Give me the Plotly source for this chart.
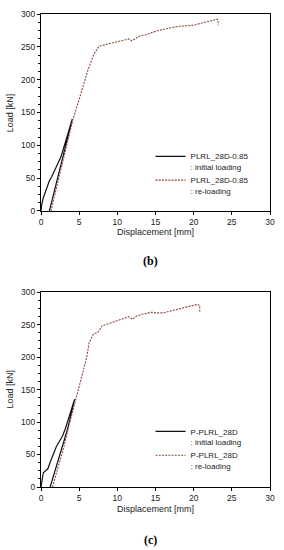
import plotly.graph_objects as go

# ---------------- data (b) PLRL_28D-0.85 ----------------
b_init_x = [0, 0.1, 0.3, 0.5, 0.8, 1.1, 1.4, 1.7, 2.2, 2.6, 3.2, 3.7, 4.1, 3.2, 2.2, 1.1]
b_init_y = [0, 10, 20, 27, 38, 46, 52, 60, 72, 82, 105, 125, 140, 98, 52, 0]
b_re_x = [1.3, 2.0, 3.0, 4.2, 5.0, 6.1, 6.9, 7.6, 8.3, 9.3, 10.3, 11.5, 11.9, 12.5, 13.0,
          13.6, 14.3, 15.4, 16.6, 17.9, 19.0, 20.0, 21.0, 22.0, 22.8, 23.1, 23.2, 23.2]
b_re_y = [0, 33, 82, 140, 170, 213, 238, 251, 253, 256, 259, 262, 259, 263, 267,
          268, 271, 275, 278, 281, 282, 283, 286, 289, 291, 292, 290, 283]
b_name = "PLRL_28D-0.85"

# ---------------- data (c) P-PLRL_28D ----------------
c_init_x = [0, 0.15, 0.3, 0.6, 0.9, 1.2, 1.6, 2.0, 2.4, 2.8, 3.2, 3.6, 4.0, 4.4, 3.5, 2.4, 1.2]
c_init_y = [0, 15, 22, 25, 28, 38, 50, 62, 70, 78, 90, 105, 120, 135, 90, 45, 0]
c_re_x = [1.5, 2.0, 2.5, 3.0, 3.5, 4.0, 4.6, 5.0, 5.5, 6.0, 6.3, 6.9, 7.3, 7.6, 8.0, 8.5, 9.0,
          10.0, 11.0, 11.5, 12.0, 12.5, 13.0, 14.0, 14.5, 15.0, 16.0, 17.0, 18.0, 19.0,
          20.0, 20.5, 20.8, 20.8]
c_re_y = [0, 20, 40, 62, 87, 110, 135, 155, 180, 200, 222, 236, 237, 240, 248, 250, 252,
          256, 259, 262, 258, 263, 265, 267, 269, 268, 268, 271, 274, 277,
          279, 281, 279, 268]
c_name = "P-PLRL_28D"

x_ticks = [0, 5, 10, 15, 20, 25, 30]
y_ticks = [0, 50, 100, 150, 200, 250, 300]

BLACK = "#111111"
BROWN = "#8a4a3c"
FONT = "Arial, Liberation Sans, sans-serif"
DASH = "2px,1.2px"

fig = go.Figure()
fig.add_trace(go.Scatter(x=b_init_x, y=b_init_y, mode="lines", line=dict(color=BLACK, width=1.2),
                         name=b_name + "<br>: initial loading", xaxis="x", yaxis="y", legend="legend"))
fig.add_trace(go.Scatter(x=b_re_x, y=b_re_y, mode="lines", line=dict(color=BROWN, width=1.1, dash=DASH),
                         name=b_name + "<br>: re-loading", xaxis="x", yaxis="y", legend="legend"))
fig.add_trace(go.Scatter(x=c_init_x, y=c_init_y, mode="lines", line=dict(color=BLACK, width=1.2),
                         name=c_name + "<br>: initial loading", xaxis="x2", yaxis="y2", legend="legend2"))
fig.add_trace(go.Scatter(x=c_re_x, y=c_re_y, mode="lines", line=dict(color=BROWN, width=1.1, dash=DASH),
                         name=c_name + "<br>: re-loading", xaxis="x2", yaxis="y2", legend="legend2"))

L, R, T, B = 41, 11, 9, 63
W, H = 284, 550
ph = H - T - B
pw = W - L - R

def py(p):
    return (H - B - p) / ph

def px(p):
    return (p - L) / pw

axis_common = dict(showline=True, mirror=True, linecolor="black", linewidth=1,
                   ticks="outside", ticklen=3, tickwidth=1, tickcolor="black",
                   showgrid=False, zeroline=False,
                   tickfont=dict(family=FONT, size=8.5, color="#222222"))

fig.update_layout(
    width=W, height=H,
    margin=dict(l=L, r=R, t=T, b=B),
    paper_bgcolor="white", plot_bgcolor="white",
    xaxis=dict(domain=[0, 1], range=[0, 30], tickvals=x_ticks, anchor="y", **axis_common),
    yaxis=dict(domain=[py(208), 1], range=[0, 300], tickvals=y_ticks, anchor="x",
               minor=dict(dtick=12.5, ticks="outside", ticklen=2, tickcolor="black"), **axis_common),
    xaxis2=dict(domain=[0, 1], range=[0, 30], tickvals=x_ticks, anchor="y2", **axis_common),
    yaxis2=dict(domain=[0, py(290)], range=[0, 300], tickvals=y_ticks, anchor="x2",
                minor=dict(dtick=12.5, ticks="outside", ticklen=2, tickcolor="black"), **axis_common),
    legend=dict(x=px(152), y=py(141), xanchor="left", yanchor="top", valign="top",
                bgcolor="rgba(0,0,0,0)", font=dict(family=FONT, size=8, color="#222222"),
                tracegroupgap=0, itemwidth=30),
    legend2=dict(x=px(152), y=py(419), xanchor="left", yanchor="top", valign="top",
                 bgcolor="rgba(0,0,0,0)", font=dict(family=FONT, size=8, color="#222222"),
                 tracegroupgap=0, itemwidth=30),
    showlegend=True,
)

ann_font = dict(family=FONT, size=9, color="#222222")
annotations = [
    dict(text="Displacement [mm]", x=px(157), y=py(229), font=ann_font),
    dict(text="Displacement [mm]", x=px(157), y=py(509), font=ann_font),
    dict(text="Load [kN]", x=px(10), y=py(109), textangle=-90, font=ann_font),
    dict(text="Load [kN]", x=px(10), y=py(388), textangle=-90, font=ann_font),
    dict(text="<b>(b)</b>", x=px(152), y=py(259),
         font=dict(family="Liberation Serif, Times New Roman, serif", size=12, color="black")),
    dict(text="<b>(c)</b>", x=px(152), y=py(541),
         font=dict(family="Liberation Serif, Times New Roman, serif", size=12, color="black")),
]
for a in annotations:
    a.update(xref="paper", yref="paper", showarrow=False, xanchor="center", yanchor="middle")
fig.update_layout(annotations=annotations)

fig.write_html("out.html", config={"displayModeBar": False},
               post_script="document.body.style.margin='0';document.body.style.overflow='hidden';")
